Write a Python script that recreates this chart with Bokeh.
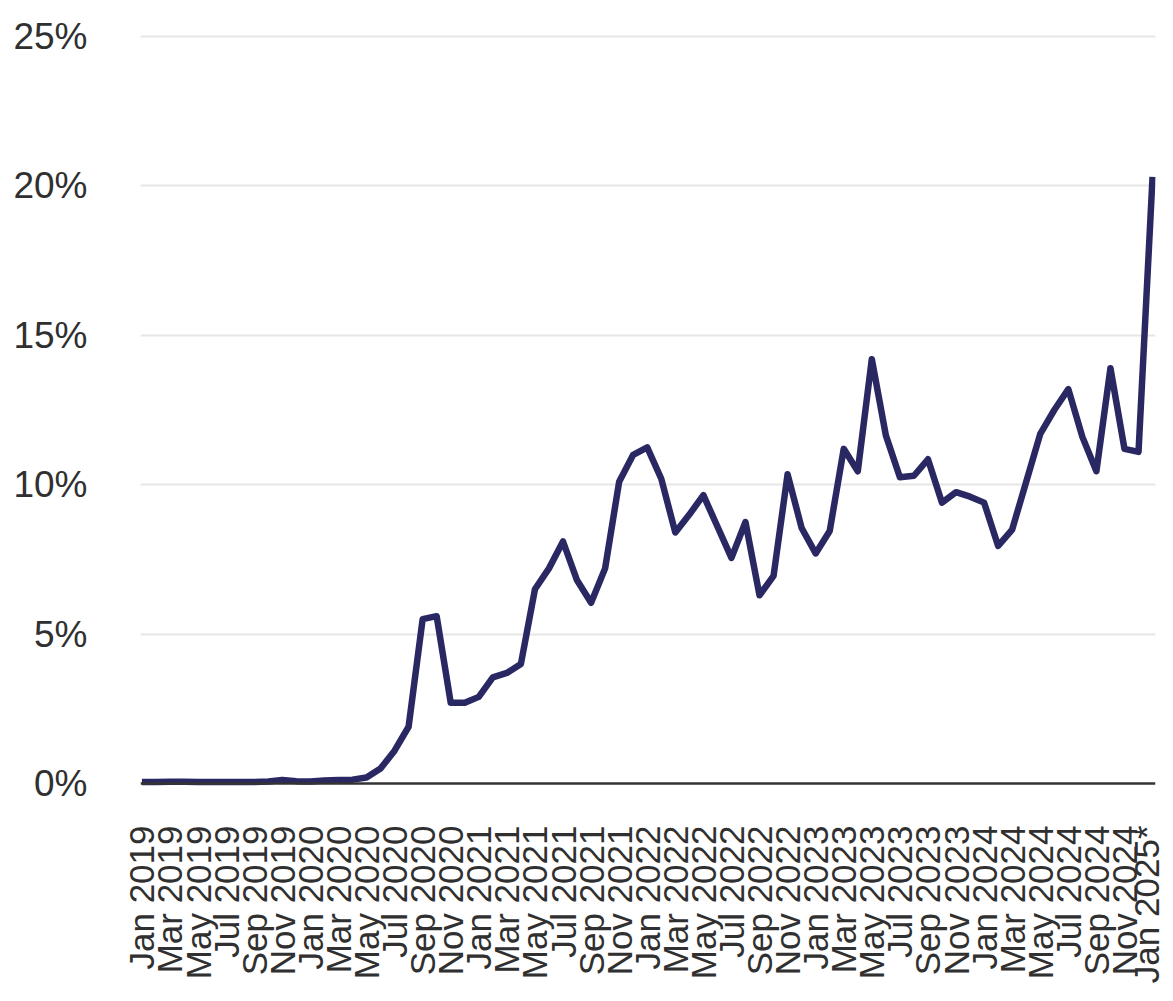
import math
from bokeh.plotting import figure
from bokeh.models import Range1d, FixedTicker, Span
from bokeh.embed import file_html
from bokeh.resources import INLINE

# ---- data ----
months = [
    "Jan 2019", "Feb 2019", "Mar 2019", "Apr 2019", "May 2019", "Jun 2019",
    "Jul 2019", "Aug 2019", "Sep 2019", "Oct 2019", "Nov 2019", "Dec 2019",
    "Jan 2020", "Feb 2020", "Mar 2020", "Apr 2020", "May 2020", "Jun 2020",
    "Jul 2020", "Aug 2020", "Sep 2020", "Oct 2020", "Nov 2020", "Dec 2020",
    "Jan 2021", "Feb 2021", "Mar 2021", "Apr 2021", "May 2021", "Jun 2021",
    "Jul 2021", "Aug 2021", "Sep 2021", "Oct 2021", "Nov 2021", "Dec 2021",
    "Jan 2022", "Feb 2022", "Mar 2022", "Apr 2022", "May 2022", "Jun 2022",
    "Jul 2022", "Aug 2022", "Sep 2022", "Oct 2022", "Nov 2022", "Dec 2022",
    "Jan 2023", "Feb 2023", "Mar 2023", "Apr 2023", "May 2023", "Jun 2023",
    "Jul 2023", "Aug 2023", "Sep 2023", "Oct 2023", "Nov 2023", "Dec 2023",
    "Jan 2024", "Feb 2024", "Mar 2024", "Apr 2024", "May 2024", "Jun 2024",
    "Jul 2024", "Aug 2024", "Sep 2024", "Oct 2024", "Nov 2024", "Dec 2024",
    "Jan 2025*",
]
share_pct = [
    0.05, 0.05, 0.06, 0.06, 0.05, 0.05, 0.05, 0.05, 0.05, 0.07, 0.12, 0.08,
    0.07, 0.10, 0.12, 0.13, 0.20, 0.50, 1.10, 1.90, 5.50, 5.60, 2.70, 2.70,
    2.90, 3.55, 3.70, 4.00, 6.50, 7.20, 8.10, 6.80, 6.05, 7.20, 10.10, 11.00,
    11.25, 10.20, 8.40, 9.00, 9.65, 8.60, 7.55, 8.75, 6.30, 6.95, 10.35, 8.55,
    7.70, 8.45, 11.20, 10.45, 14.20, 11.65, 10.25, 10.30, 10.85, 9.40, 9.75, 9.60,
    9.40, 7.95, 8.50, 10.10, 11.70, 12.50, 13.20, 11.60, 10.45, 13.90, 11.20, 11.10,
    20.30,
]
y_ticks = [0, 5, 10, 15, 20, 25]
y_tick_labels = ["0%", "5%", "10%", "15%", "20%", "25%"]

idx = list(range(len(months)))
x_ticks = idx[::2]

LINE = "#2a2862"
TXT = "#303030"
FONT = "Liberation Sans"

p = figure(
    width=1165, height=993,
    output_backend="svg", toolbar_location=None,
    x_range=Range1d(-0.1, 72.21), y_range=Range1d(-0.2, 25.2),
    min_border_left=140, min_border_right=10,
    min_border_top=30, min_border_bottom=204,
)
p.outline_line_color = None
p.background_fill_color = "white"
p.border_fill_color = "white"

# grid
p.xgrid.grid_line_color = None
p.ygrid.ticker = FixedTicker(ticks=[t for t in y_ticks if t != 0])
p.ygrid.grid_line_color = "#e6e6e6"
p.ygrid.grid_line_width = 2

# y axis
p.yaxis.ticker = FixedTicker(ticks=y_ticks)
p.yaxis.major_label_overrides = {t: l for t, l in zip(y_ticks, y_tick_labels)}
p.yaxis.axis_line_color = None
p.yaxis.major_tick_line_color = None
p.yaxis.minor_tick_line_color = None
p.yaxis.major_tick_out = 0
p.yaxis.major_label_standoff = 53
p.yaxis.major_label_text_font = FONT
p.yaxis.major_label_text_font_size = "37px"
p.yaxis.major_label_text_color = TXT

# x axis
p.xaxis.ticker = FixedTicker(ticks=x_ticks)
p.xaxis.major_label_overrides = {i: months[i] for i in x_ticks}
p.xaxis.major_label_orientation = math.pi / 2
p.xaxis.axis_line_color = None
p.xaxis.major_tick_line_color = None
p.xaxis.minor_tick_line_color = None
p.xaxis.major_tick_out = 0
p.xaxis.major_label_standoff = 36
p.xaxis.major_label_text_font = FONT
p.xaxis.major_label_text_font_size = "35px"
p.xaxis.major_label_text_color = TXT

# zero baseline
p.add_layout(Span(location=0, dimension="width", line_color="#333333", line_width=2.5))

p.line(idx, share_pct, line_color=LINE, line_width=6.5, line_join="round", line_cap="butt")

open("out.html", "w").write(file_html(p, INLINE))
